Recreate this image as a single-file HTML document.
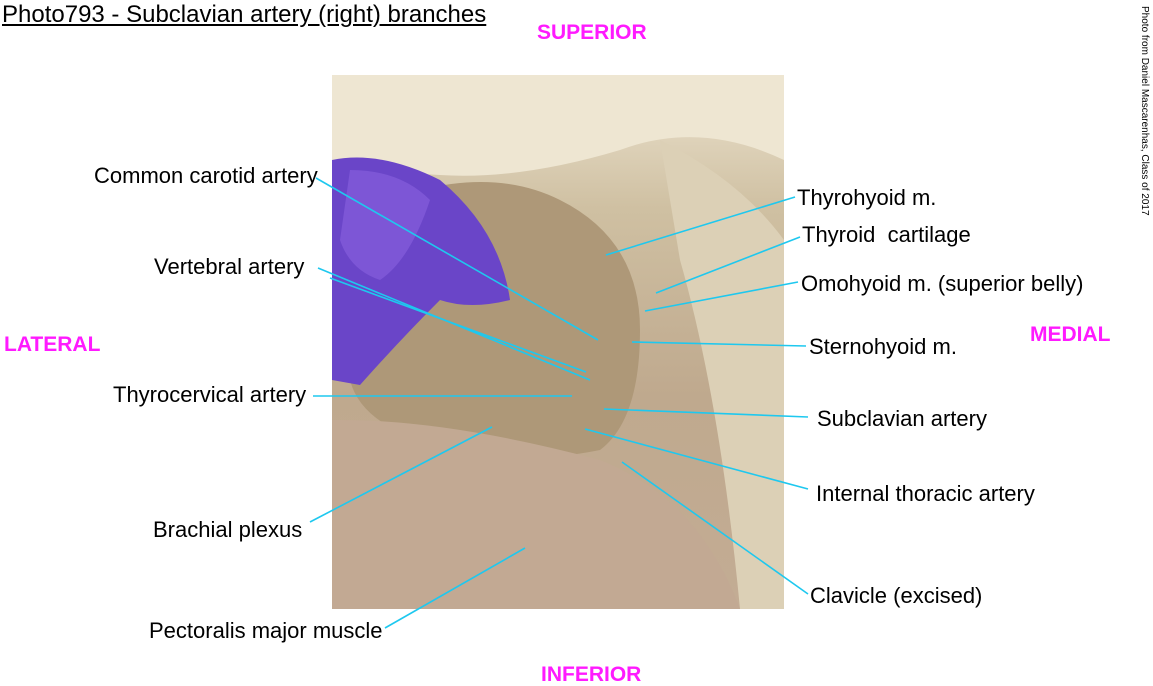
<!DOCTYPE html>
<html><head><meta charset="utf-8"><style>
body{margin:0;width:1153px;height:685px;background:#fff;position:relative;overflow:hidden;font-family:"Liberation Sans",Arial,sans-serif}
.t{position:absolute;font-size:22px;color:#000;white-space:nowrap;line-height:1}
.m{position:absolute;font-size:21px;font-weight:bold;color:#ff1aff;line-height:1}
</style></head><body>
<div class="t" style="left:2px;top:3px;font-size:24px;text-decoration:underline">Photo793 - Subclavian artery (right) branches</div>
<div class="m" style="left:537px;top:22px">SUPERIOR</div>
<div class="m" style="left:541px;top:664px">INFERIOR</div>
<div class="m" style="left:4px;top:334px">LATERAL</div>
<div class="m" style="left:1030px;top:324px">MEDIAL</div>
<div style="position:absolute;left:1136px;top:6px;width:14px;height:220px">
<div style="position:absolute;left:0;top:0;transform-origin:0 0;transform:translate(14px,0) rotate(90deg);font-size:10px;white-space:nowrap">Photo from Daniel Mascarenhas, Class of 2017</div></div>
<svg style="position:absolute;left:0;top:0" width="1153" height="685">
<defs>
<linearGradient id="bg" x1="0" y1="0" x2="0" y2="1">
<stop offset="0" stop-color="#ece3cf"/><stop offset="0.25" stop-color="#cfc0a2"/><stop offset="0.6" stop-color="#bfa98e"/><stop offset="1" stop-color="#c3ac94"/></linearGradient>
</defs>
<rect x="332" y="75" width="452" height="534" fill="url(#bg)"/>
<path d="M332 75H784V160Q700 120 620 150Q520 180 440 175Q380 170 332 185Z" fill="#eee6d2"/>
<path d="M660 140Q740 180 784 240V609H740Q720 400 680 260Z" fill="#dcd0b6"/>
<path d="M420 190Q500 170 560 200Q640 240 640 330Q640 420 600 450Q500 470 420 440Q360 420 350 380V250Z" fill="#ae9878"/>
<path d="M340 420Q450 420 600 460Q700 500 740 609H332V420Z" fill="#c2a993"/>
<path d="M332 160Q380 150 440 180Q500 230 510 300Q470 310 440 300Q400 340 360 385L332 380Z" fill="#6a45c8"/>
<path d="M350 170Q400 170 430 200Q410 260 380 280Q350 270 340 240Z" fill="#7d56d6"/>
<g stroke="#1ec8ef" stroke-width="1.6" fill="none">
<line x1="316" y1="178" x2="598" y2="340"/>
<line x1="318" y1="268" x2="590" y2="380"/>
<line x1="330" y1="278" x2="586" y2="372"/>
<line x1="313" y1="396" x2="572" y2="396"/>
<line x1="310" y1="522" x2="492" y2="427"/>
<line x1="385" y1="628" x2="525" y2="548"/>
<line x1="795" y1="197" x2="606" y2="255"/>
<line x1="800" y1="237" x2="656" y2="293"/>
<line x1="798" y1="282" x2="645" y2="311"/>
<line x1="806" y1="346" x2="632" y2="342"/>
<line x1="808" y1="417" x2="604" y2="409"/>
<line x1="808" y1="489" x2="585" y2="429"/>
<line x1="808" y1="594" x2="622" y2="462"/>
</g></svg>
<div class="t" style="left:94px;top:165px">Common carotid artery</div>
<div class="t" style="left:154px;top:256px">Vertebral artery</div>
<div class="t" style="left:113px;top:384px">Thyrocervical artery</div>
<div class="t" style="left:153px;top:519px">Brachial plexus</div>
<div class="t" style="left:149px;top:620px">Pectoralis major muscle</div>
<div class="t" style="left:797px;top:187px">Thyrohyoid m.</div>
<div class="t" style="left:802px;top:224px">Thyroid&nbsp; cartilage</div>
<div class="t" style="left:801px;top:273px">Omohyoid m. (superior belly)</div>
<div class="t" style="left:809px;top:336px">Sternohyoid m.</div>
<div class="t" style="left:817px;top:408px">Subclavian artery</div>
<div class="t" style="left:816px;top:483px">Internal thoracic artery</div>
<div class="t" style="left:810px;top:585px">Clavicle (excised)</div>
</body></html>
